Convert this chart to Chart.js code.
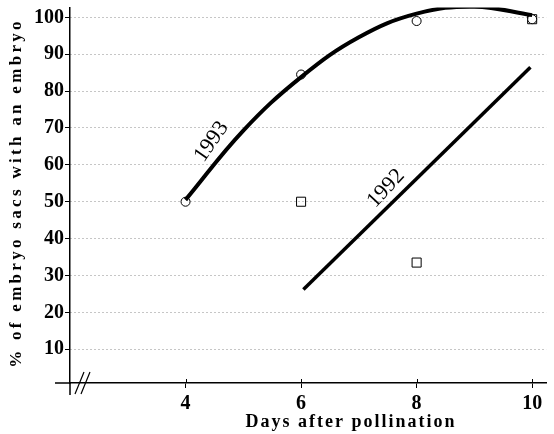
<!DOCTYPE html>
<html>
<head>
<meta charset="utf-8">
<script src="https://cdn.jsdelivr.net/npm/chart.js@4/dist/chart.umd.min.js"></script>
<style>
html, body { margin: 0; padding: 0; background: #fff; }
</style>
</head>
<body>
<canvas id="chartEmbryo" width="554" height="434"></canvas>
<script>
// observed points
const days1993 = [4, 6, 8, 10]
const pct1993 = [50, 84.5, 99, 99.5]
const days1992 = [6, 8, 10]
const pct1992 = [50, 33.5, 99.5]

// fitted lines
const fitDays1993 = [4, 5, 6, 7, 8, 9, 10]
const fit1993 = [50.5, 69.3, 83.8, 94.6, 101, 102.9, 100.6]
const fitDays1992 = [6.04, 9.97]
const fit1992 = [26.2, 86.5]

const xTicks = [4, 6, 8, 10]
const yTicks = [10, 20, 30, 40, 50, 60, 70, 80, 90, 100]

// year labels on the curves: [day, pct, angle]
const label1993 = [4.45, 66.3, -55]
const label1992 = [7.47, 53.6, -47]

const serif = '"Liberation Serif", "DejaVu Serif", serif'

const toXY = (xs, ys) => xs.map((x, i) => ({ x: x, y: ys[i] }))

const decorations = {
    id: 'decorations',
    afterDraw(chart) {
        const ctx = chart.ctx
        const xs = chart.scales.x
        const ys = chart.scales.y
        const area = chart.chartArea
        ctx.save()
        ctx.strokeStyle = '#000'
        ctx.lineWidth = 1.5
        // axis stubs past the crossing
        ctx.beginPath()
        ctx.moveTo(area.left, area.bottom)
        ctx.lineTo(area.left, area.bottom + 12)
        ctx.moveTo(area.left, area.bottom)
        ctx.lineTo(area.left - 15, area.bottom)
        ctx.stroke()
        // axis break
        ctx.lineWidth = 1.2
        ctx.beginPath()
        ctx.moveTo(area.left + 5, area.bottom + 11)
        ctx.lineTo(area.left + 14, area.bottom - 11)
        ctx.moveTo(area.left + 11, area.bottom + 11)
        ctx.lineTo(area.left + 20, area.bottom - 11)
        ctx.stroke()
        // short upward ticks on the x axis
        ctx.lineWidth = 1
        ctx.beginPath()
        xTicks.forEach(v => {
            const px = Math.round(xs.getPixelForValue(v)) + 0.5
            ctx.moveTo(px, area.bottom)
            ctx.lineTo(px, area.bottom - 4)
        })
        ctx.stroke()

        // curve labels
        ctx.fillStyle = '#000'
        ctx.font = '22px ' + serif
        ctx.textAlign = 'center'
        ctx.textBaseline = 'middle'
        ;[['1993', label1993], ['1992', label1992]].forEach(([txt, p]) => {
            ctx.save()
            ctx.translate(xs.getPixelForValue(p[0]), ys.getPixelForValue(p[1]))
            ctx.rotate(p[2] * Math.PI / 180)
            ctx.fillText(txt, 0, 0)
            ctx.restore()
        })

        // axis titles
        ctx.font = 'bold 18px ' + serif
        ctx.letterSpacing = '2px'
        ctx.fillText('Days after pollination', 351, 422)
        ctx.save()
        ctx.translate(17, 193)
        ctx.rotate(-Math.PI / 2)
        ctx.font = 'bold 17px ' + serif
        ctx.letterSpacing = '3.3px'
        ctx.fillText('% of embryo sacs with an embryo', 0, 0)
        ctx.restore()
        ctx.restore()
    }
}

const dataEmbryo = {
    datasets: [
        {
            label: '1993 fit',
            data: toXY(fitDays1993, fit1993),
            showLine: true,
            borderColor: '#000',
            borderWidth: 4,
            pointRadius: 0,
            tension: 0.4,
            fill: false
        },
        {
            label: '1992 fit',
            data: toXY(fitDays1992, fit1992),
            showLine: true,
            borderColor: '#000',
            borderWidth: 3.5,
            pointRadius: 0,
            fill: false
        },
        {
            label: '1993',
            data: toXY(days1993, pct1993),
            showLine: false,
            pointStyle: 'circle',
            pointRadius: 4.5,
            pointBorderWidth: 1,
            pointBorderColor: '#000',
            pointBackgroundColor: '#fff'
        },
        {
            label: '1992',
            data: toXY(days1992, pct1992),
            showLine: false,
            pointStyle: 'rect',
            pointRadius: 6.4,
            pointBorderWidth: 1,
            pointBorderColor: '#000',
            pointBackgroundColor: 'rgba(255,255,255,0)'
        }
    ]
}

const configEmbryo = {
    type: 'scatter',
    data: dataEmbryo,
    options: {
        responsive: false,
        animation: false,
        layout: {
            padding: { top: 5, right: 0, left: 0, bottom: 0 }
        },
        plugins: {
            legend: { display: false },
            tooltip: { enabled: false }
        },
        scales: {
            x: {
                type: 'linear',
                min: 2,
                max: 10.25,
                afterBuildTicks: (scale) => { scale.ticks = xTicks.map(v => ({ value: v })) },
                afterFit: (scale) => {
                    scale.height = 51
                    scale.paddingLeft = 0
                    scale.paddingRight = 0
                },
                grid: {
                    drawOnChartArea: false,
                    drawTicks: true,
                    tickLength: 5,
                    tickColor: '#000',
                    tickWidth: 1
                },
                border: { color: '#000', width: 1.5 },
                ticks: {
                    color: '#000',
                    padding: 4,
                    maxRotation: 0,
                    font: { family: serif, size: 20, weight: 'bold' }
                }
            },
            y: {
                type: 'linear',
                min: 0.84,
                max: 102.7,
                afterBuildTicks: (scale) => { scale.ticks = yTicks.map(v => ({ value: v })) },
                afterFit: (scale) => {
                    scale.width = 70
                    scale.paddingTop = 0
                    scale.paddingBottom = 0
                },
                grid: {
                    color: 'rgba(0,0,0,0.45)',
                    lineWidth: 1,
                    drawTicks: true,
                    tickLength: 5,
                    tickColor: '#000',
                    tickWidth: 1,
                    tickBorderDash: []
                },
                border: { color: '#000', width: 1.5, dash: [1, 3] },
                ticks: {
                    color: '#000',
                    padding: 1,
                    font: { family: serif, size: 20, weight: 'bold' }
                }
            }
        }
    },
    plugins: [decorations]
}

let chartEmbryo = new Chart(
    document.getElementById('chartEmbryo'),
    configEmbryo
)
</script>
</body>
</html>
